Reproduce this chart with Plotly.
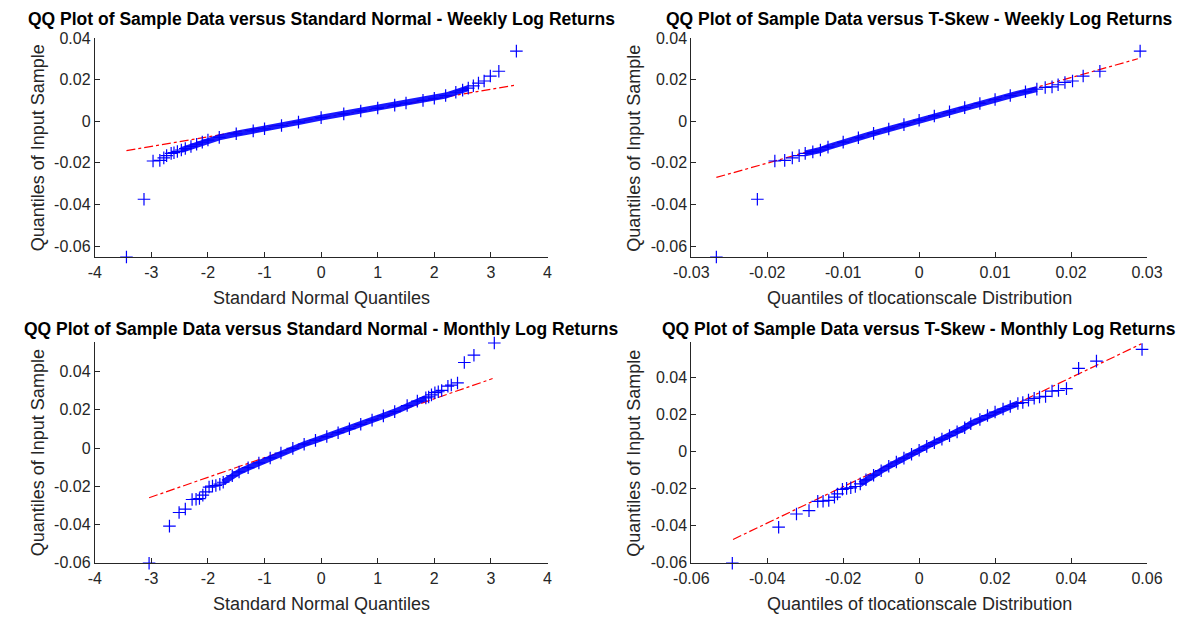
import plotly.graph_objects as go

# ---------------- data ----------------
# Weekly log returns vs Standard Normal
wn_lo_x = [-3.44, -3.13, -2.97, -2.85, -2.78, -2.73, -2.65, -2.60, -2.54]
wn_lo_y = [-0.0653, -0.0375, -0.0191, -0.0188, -0.0176, -0.0165, -0.0154, -0.0151, -0.0145]
wn_band_x = [-2.47, -2.4, -2.3, -2.2, -2.1, -2.0, -1.8, -1.5, -1.2, -1.0, -0.7, -0.4, 0.0,
             0.4, 0.7, 1.0, 1.3, 1.5, 1.8, 2.0, 2.2, 2.38, 2.5, 2.6]
wn_band_y = [-0.0138, -0.0131, -0.0121, -0.0110, -0.0100, -0.0090, -0.0077, -0.0060, -0.0046,
             -0.0036, -0.0020, -0.0004, 0.0018, 0.0036, 0.0050, 0.0064, 0.0078, 0.0088,
             0.0101, 0.0111, 0.0124, 0.0140, 0.0150, 0.0160]
wn_hi_x = [2.69, 2.78, 2.88, 2.99, 3.14, 3.45]
wn_hi_y = [0.0171, 0.0184, 0.0194, 0.0218, 0.0241, 0.0338]
wn_ref_x = [-3.44, 3.45]
wn_ref_y = [-0.0141, 0.0175]

# Weekly log returns vs T-Skew (tlocationscale)
wt_lo_x = [-0.0267, -0.0213, -0.0190, -0.0177, -0.0167, -0.0158]
wt_lo_y = [-0.0653, -0.0375, -0.0191, -0.0188, -0.0176, -0.0165]
wt_band_x = [-0.0150, -0.0140, -0.0130, -0.0120, -0.0100, -0.0080, -0.0060, -0.0040, -0.0020,
             0.0, 0.0020, 0.0040, 0.0060, 0.0080, 0.0100, 0.0120, 0.0140, 0.0155]
wt_band_y = [-0.0154, -0.0147, -0.0138, -0.0124, -0.0100, -0.0079, -0.0058, -0.0037, -0.0016,
             0.0005, 0.0026, 0.0046, 0.0066, 0.0086, 0.0105, 0.0124, 0.0142, 0.0155]
wt_hi_x = [0.0166, 0.0175, 0.0183, 0.0192, 0.0202, 0.0216, 0.0238, 0.0291]
wt_hi_y = [0.0163, 0.0166, 0.0176, 0.0187, 0.0194, 0.0218, 0.0241, 0.0338]
wt_ref_x = [-0.0267, 0.0288]
wt_ref_y = [-0.0270, 0.0301]

# Monthly log returns vs Standard Normal
mn_lo_x = [-3.04, -2.68, -2.51, -2.40, -2.28, -2.21, -2.15, -2.09, -2.04, -1.98, -1.92, -1.86, -1.79]
mn_lo_y = [-0.0602, -0.0408, -0.0337, -0.0319, -0.0269, -0.0268, -0.0264, -0.0246, -0.0229,
           -0.0204, -0.0199, -0.0196, -0.0189]
mn_band_x = [-1.73, -1.57, -1.45, -1.29, -1.1, -0.9, -0.71, -0.5, -0.3, -0.1, 0.1, 0.3, 0.5,
             0.7, 0.9, 1.1, 1.3, 1.52, 1.7, 1.85]
mn_band_y = [-0.0179, -0.0145, -0.0125, -0.0103, -0.0078, -0.0052, -0.0026, -0.0002, 0.0020,
             0.0040, 0.0060, 0.0080, 0.0101, 0.0124, 0.0146, 0.0168, 0.0190, 0.0222, 0.0245, 0.0262]
mn_hi_x = [1.90, 1.95, 2.01, 2.07, 2.13, 2.24, 2.30, 2.41, 2.53, 2.70, 3.06]
mn_hi_y = [0.0267, 0.0278, 0.0289, 0.0294, 0.0301, 0.0323, 0.0329, 0.0340, 0.0447, 0.0485, 0.0549]
mn_ref_x = [-3.04, 3.03]
mn_ref_y = [-0.0260, 0.0363]

# Monthly log returns vs T-Skew (tlocationscale)
mt_lo_x = [-0.0492, -0.0370, -0.0323, -0.0290, -0.0267, -0.0253, -0.0238, -0.0223, -0.0215,
           -0.0202, -0.0191, -0.0180, -0.0168]
mt_lo_y = [-0.0602, -0.0408, -0.0337, -0.0319, -0.0269, -0.0268, -0.0264, -0.0246, -0.0229,
           -0.0204, -0.0199, -0.0196, -0.0189]
mt_band_x = [-0.0155, -0.014, -0.012, -0.010, -0.008, -0.006, -0.004, -0.002, 0.0, 0.002, 0.004,
             0.006, 0.008, 0.010, 0.012, 0.0136, 0.016, 0.018, 0.020, 0.0221, 0.024, 0.026]
mt_band_y = [-0.0175, -0.0153, -0.0128, -0.0104, -0.0080, -0.0057, -0.0036, -0.0015, 0.0006,
             0.0027, 0.0047, 0.0066, 0.0085, 0.0105, 0.0127, 0.0149, 0.0172, 0.0193, 0.0212,
             0.0228, 0.0242, 0.0258]
mt_hi_x = [0.0273, 0.0288, 0.0303, 0.0317, 0.0333, 0.0350, 0.0367, 0.0388, 0.0420, 0.0467, 0.0587]
mt_hi_y = [0.0263, 0.0276, 0.0286, 0.0293, 0.0296, 0.0325, 0.0328, 0.0338, 0.0447, 0.0486, 0.0549]
mt_ref_x = [-0.0490, 0.0585]
mt_ref_y = [-0.0474, 0.0579]

# tick labels
norm_ticks = [-4, -3, -2, -1, 0, 1, 2, 3, 4]
norm_ticktext = ["-4", "-3", "-2", "-1", "0", "1", "2", "3", "4"]
wt_ticks = [-0.03, -0.02, -0.01, 0, 0.01, 0.02, 0.03]
wt_ticktext = ["-0.03", "-0.02", "-0.01", "0", "0.01", "0.02", "0.03"]
mt_ticks = [-0.06, -0.04, -0.02, 0, 0.02, 0.04, 0.06]
mt_ticktext = ["-0.06", "-0.04", "-0.02", "0", "0.02", "0.04", "0.06"]
y_ticks = [-0.06, -0.04, -0.02, 0, 0.02, 0.04]
y_ticktext = ["-0.06", "-0.04", "-0.02", "0", "0.02", "0.04"]

titles = [
    "QQ Plot of Sample Data versus Standard Normal - Weekly Log Returns",
    "QQ Plot of Sample Data versus T-Skew - Weekly Log Returns",
    "QQ Plot of Sample Data versus Standard Normal - Monthly Log Returns",
    "QQ Plot of Sample Data versus T-Skew - Monthly Log Returns",
]
xtitles = ["Standard Normal Quantiles", "Quantiles of tlocationscale Distribution",
           "Standard Normal Quantiles", "Quantiles of tlocationscale Distribution"]
ytitle = "Quantiles of Input Sample"

# ---------------- figure ----------------
W, H = 1196, 624
FONT = "Liberation Sans, Arial, Helvetica, sans-serif"
AX = "#262626"
BLUE = "#0000FF"
RED = "#FF0000"

# plot areas in pixels: (left, right, top, bottom)
areas = [(79, 545, 31, 256), (693, 1162, 31, 256), (79, 545, 343, 570), (693, 1162, 343, 570)]
title_y = [11, 11, 329, 329]
xranges = [[-4, 4], [-0.03, 0.03], [-4, 4], [-0.06, 0.06]]
yranges = [[-0.0655, 0.04], [-0.0655, 0.04], [-0.0603, 0.0553], [-0.0603, 0.0588]]
xt = [(norm_ticks, norm_ticktext), (wt_ticks, wt_ticktext),
      (norm_ticks, norm_ticktext), (mt_ticks, mt_ticktext)]

panels = [
    (wn_lo_x, wn_lo_y, wn_band_x, wn_band_y, wn_hi_x, wn_hi_y, wn_ref_x, wn_ref_y),
    (wt_lo_x, wt_lo_y, wt_band_x, wt_band_y, wt_hi_x, wt_hi_y, wt_ref_x, wt_ref_y),
    (mn_lo_x, mn_lo_y, mn_band_x, mn_band_y, mn_hi_x, mn_hi_y, mn_ref_x, mn_ref_y),
    (mt_lo_x, mt_lo_y, mt_band_x, mt_band_y, mt_hi_x, mt_hi_y, mt_ref_x, mt_ref_y),
]

fig = go.Figure()
layout = dict(width=W, height=H, margin=dict(l=0, r=0, t=0, b=0),
              paper_bgcolor="white", plot_bgcolor="white", showlegend=False,
              font=dict(family=FONT, color=AX))
annotations = []

for i, (area, p) in enumerate(zip(areas, panels)):
    n = "" if i == 0 else str(i + 1)
    xa, ya = "x" + n, "y" + n
    l, r, t, b = area
    lo_x, lo_y, band_x, band_y, hi_x, hi_y, ref_x, ref_y = p

    # reference line (red dash-dot)
    fig.add_trace(go.Scatter(x=ref_x, y=ref_y, mode="lines", xaxis=xa, yaxis=ya,
                             line=dict(color=RED, width=1.2, dash="dashdot"),
                             hoverinfo="skip"))
    # dense band of overlapping "+" markers
    fig.add_trace(go.Scatter(x=band_x, y=band_y, mode="lines", xaxis=xa, yaxis=ya,
                             line=dict(color="rgba(0,0,255,0.9)", width=6),
                             hoverinfo="skip", cliponaxis=False))
    allx = lo_x + band_x + hi_x
    ally = lo_y + band_y + hi_y
    fig.add_trace(go.Scatter(x=allx, y=ally, mode="markers", xaxis=xa, yaxis=ya,
                             marker=dict(symbol="cross-thin", size=9,
                                         line=dict(color=BLUE, width=1.2), color=BLUE),
                             cliponaxis=False))

    common = dict(showgrid=False, zeroline=False, showline=True, linecolor=AX, linewidth=1,
                  ticks="inside", ticklen=5, tickcolor=AX, tickwidth=1,
                  tickfont=dict(family=FONT, size=16, color=AX))
    layout["xaxis" + n] = dict(domain=[l / W, r / W], range=xranges[i], anchor=ya,
                               tickvals=xt[i][0], ticktext=xt[i][1], **common)
    layout["yaxis" + n] = dict(domain=[1 - b / H, 1 - t / H], range=yranges[i], anchor=xa,
                               tickvals=y_ticks, ticktext=y_ticktext, **common)

    cx = (l + r) / 2 / W
    annotations.append(dict(text="<b>" + titles[i] + "</b>", x=cx, y=1 - title_y[i] / H,
                            xref="paper", yref="paper", xanchor="center", yanchor="middle",
                            showarrow=False, font=dict(family=FONT, size=17.5, color="black")))
    annotations.append(dict(text=xtitles[i], x=cx, y=1 - (b + 42) / H,
                            xref="paper", yref="paper", xanchor="center", yanchor="middle",
                            showarrow=False, font=dict(family=FONT, size=18, color=AX)))
    annotations.append(dict(text=ytitle, x=(l - 59) / W, y=1 - (t + b) / 2 / H, textangle=-90,
                            xref="paper", yref="paper", xanchor="center", yanchor="middle",
                            showarrow=False, font=dict(family=FONT, size=18, color=AX)))

layout["annotations"] = annotations
fig.update_layout(**layout)
fig.write_html("out.html")
